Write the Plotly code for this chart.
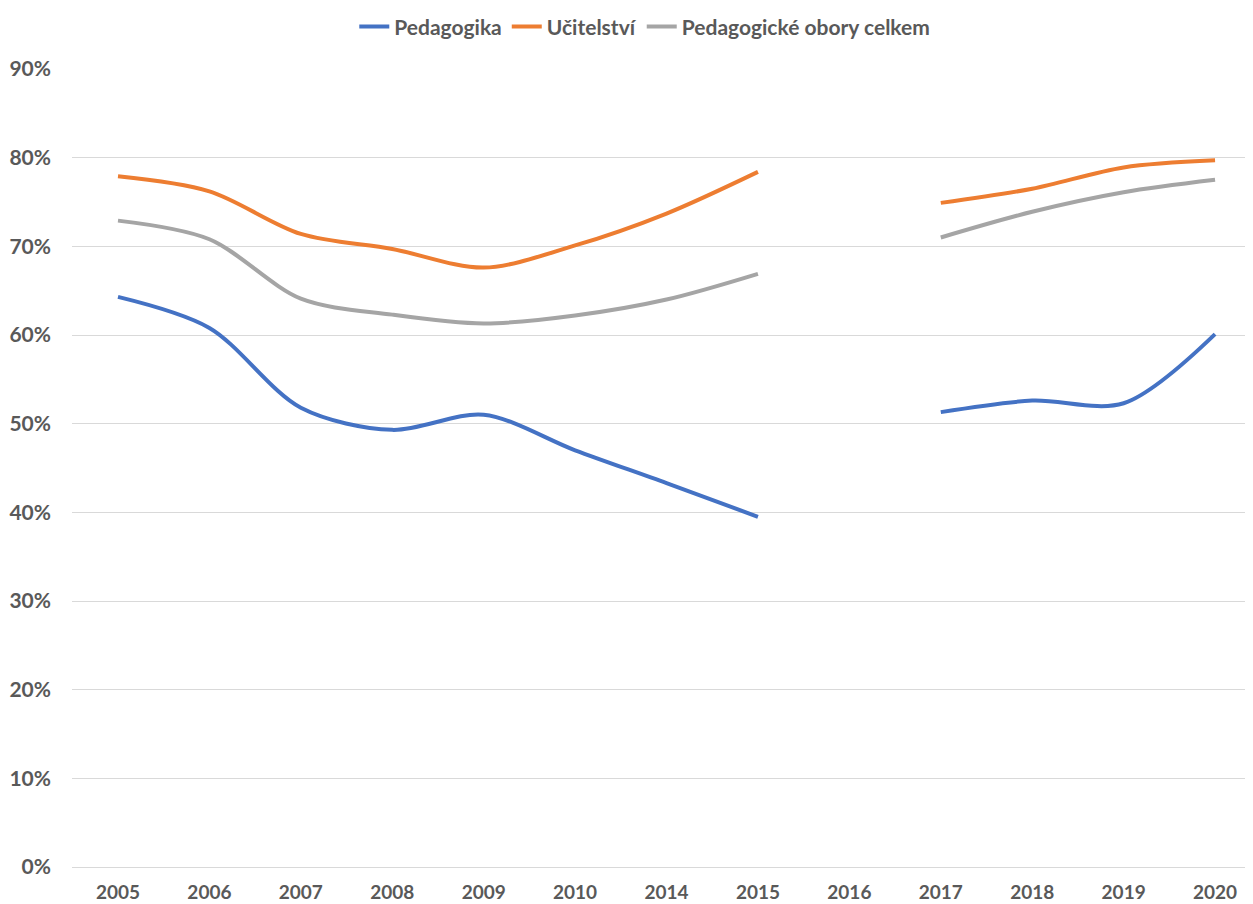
import plotly.graph_objects as go

years = ["2005", "2006", "2007", "2008", "2009", "2010", "2014", "2015", "2016", "2017", "2018", "2019", "2020"]
pedagogika = [0.643, 0.608, 0.518, 0.493, 0.510, 0.470, 0.433, 0.395, None, 0.513, 0.526, 0.523, 0.601]
ucitelstvi = [0.779, 0.762, 0.714, 0.697, 0.676, 0.701, 0.737, 0.784, None, 0.749, 0.765, 0.789, 0.797]
celkem = [0.729, 0.708, 0.641, 0.623, 0.613, 0.622, 0.640, 0.669, None, 0.710, 0.739, 0.761, 0.775]

series = [
    ("Pedagogika", pedagogika, "#4472C4"),
    ("Učitelství", ucitelstvi, "#ED7D31"),
    ("Pedagogické obory celkem", celkem, "#A5A5A5"),
]

font_family = "Lato, 'Open Sans', sans-serif"
text_color = "#595959"

fig = go.Figure()
for name, vals, color in series:
    fig.add_trace(go.Scatter(
        x=years, y=vals, name=name, mode="lines",
        line=dict(color=color, width=4, shape="spline", smoothing=0.9),
        connectgaps=False,
    ))

fig.update_layout(
    width=1245, height=896,
    margin=dict(l=64, r=0, t=61, b=37, autoexpand=False),
    paper_bgcolor="white", plot_bgcolor="white",
    font=dict(family=font_family, size=19, color=text_color),
    legend=dict(
        orientation="h", x=0.485, xanchor="center",
        yref="container", y=0.979, yanchor="middle",
        font=dict(family=font_family, size=21, color=text_color, weight="bold"),
        itemwidth=30, traceorder="normal", tracegroupgap=0,
    ),
    showlegend=True,
)
fig.update_xaxes(
    type="category", range=[-0.503, 12.415], automargin=False,
    showgrid=False, showline=False, zeroline=False,
    ticks="", tickfont=dict(family=font_family, size=19, color=text_color, weight="bold"),
    ticklabelstandoff=12,
)
fig.update_yaxes(
    range=[0, 0.9], dtick=0.1, tickformat=".0%", automargin=False,
    showgrid=True, gridcolor="#D9D9D9", gridwidth=1.3,
    zeroline=True, zerolinecolor="#D9D9D9", zerolinewidth=1.3,
    showline=False, ticks="",
    tickfont=dict(family=font_family, size=21, color=text_color, weight="bold"),
    ticklabelstandoff=20,
)

fig.write_html("out.html")
